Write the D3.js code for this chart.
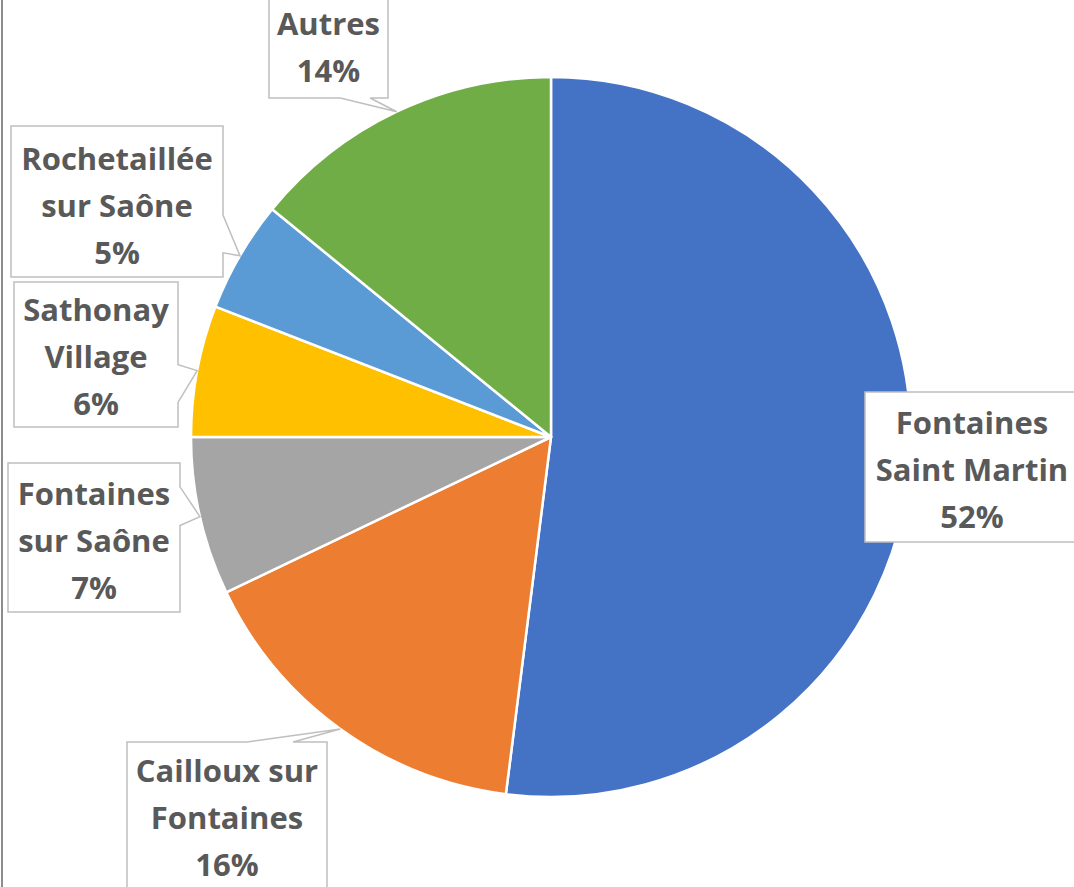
<html>
<head>
    <title>Répartition par commune</title>
    <script src="https://d3js.org/d3.v7.min.js"></script>
    <style>
        body { margin: 0; background: #fff; }
    </style>
</head>
<body>
    <svg id="piechart" width="1074" height="887"></svg>

    <script>
        // data
        const communes = ["Fontaines Saint Martin", "Cailloux sur Fontaines", "Fontaines sur Saône",
                          "Sathonay Village", "Rochetaillée sur Saône", "Autres"];
        const labelLines = [["Fontaines", "Saint Martin"], ["Cailloux sur", "Fontaines"], ["Fontaines", "sur Saône"],
                            ["Sathonay", "Village"], ["Rochetaillée", "sur Saône"], ["Autres"]];
        const shares = [52.0, 15.9, 7.1, 5.9, 5.0, 14.1];
        const colors = ["#4472C4", "#ED7D31", "#A5A5A5", "#FFC000", "#5B9BD5", "#70AD47"];

        // label boxes (layout only): x, y, w, h, side of the pointer, pointer base as fractions of that side
        const boxes = [
            { x: 865, y: 392, w: 214, h: 150, side: null, dy: 2 },
            { x: 127, y: 742, w: 200, h: 154, side: "top", f: [0.6, 0.83], dy: -2 },
            { x: 8, y: 463, w: 172, h: 149, side: "right", f: [0.16, 0.42], dy: 2 },
            { x: 14, y: 282, w: 164, h: 145, side: "right", f: [0.57, 0.83], dy: 1 },
            { x: 11, y: 126, w: 212, h: 151, side: "right", f: [0.59, 0.84], dy: 3 },
            { x: 269, y: -6, w: 119, h: 104, side: "bottom", f: [0.6, 0.85], dy: 0 }
        ];

        const svg = d3.select('svg#piechart');
        const cx = 551, cy = 437, radius = 360;

        // thin frame line on the left
        svg.append('line')
           .attr('x1', 2).attr('x2', 2)
           .attr('y1', 0).attr('y2', 887)
           .attr('stroke', '#8c8c8c')
           .attr('stroke-width', 2);

        const table = communes.map((c, i) => ({ name: c, value: shares[i], color: colors[i], lines: labelLines[i], box: boxes[i] }));

        const pie = d3.pie().sort(null).value(d => d.value);
        const arcs = pie(table);
        const arc = d3.arc().innerRadius(0).outerRadius(radius);

        const chartArea = svg.append('g')
                             .attr('transform', `translate(${cx}, ${cy})`);

        chartArea.selectAll('path')
                 .data(arcs)
                 .enter()
                 .append('path')
                 .attr('d', arc)
                 .attr('fill', d => d.data.color)
                 .attr('stroke', '#fff')
                 .attr('stroke-width', 2.5)
                 .attr('stroke-linejoin', 'round');

        // callout boxes with a wedge pointing at the slice edge
        function calloutPath(b, tip) {
            const x0 = b.x, y0 = b.y, x1 = b.x + b.w, y1 = b.y + b.h;
            const inside = tip[0] > x0 && tip[0] < x1 && tip[1] > y0 && tip[1] < y1;
            if (!b.side || inside) {
                return `M${x0},${y0}H${x1}V${y1}H${x0}Z`;
            }
            const p = d3.path();
            p.moveTo(x0, y0);
            if (b.side === 'top') {
                p.lineTo(x0 + b.w * b.f[0], y0);
                p.lineTo(tip[0], tip[1]);
                p.lineTo(x0 + b.w * b.f[1], y0);
            }
            p.lineTo(x1, y0);
            if (b.side === 'right') {
                p.lineTo(x1, y0 + b.h * b.f[0]);
                p.lineTo(tip[0], tip[1]);
                p.lineTo(x1, y0 + b.h * b.f[1]);
            }
            p.lineTo(x1, y1);
            if (b.side === 'bottom') {
                p.lineTo(x0 + b.w * b.f[1], y1);
                p.lineTo(tip[0], tip[1]);
                p.lineTo(x0 + b.w * b.f[0], y1);
            }
            p.lineTo(x0, y1);
            p.closePath();
            return p.toString();
        }

        const labels = svg.append('g')
                          .selectAll('g')
                          .data(arcs)
                          .enter()
                          .append('g');

        labels.append('path')
              .attr('d', d => {
                  const mid = (d.startAngle + d.endAngle) / 2;
                  const tip = [cx + radius * Math.sin(mid), cy - radius * Math.cos(mid)];
                  return calloutPath(d.data.box, tip);
              })
              .attr('fill', '#fff')
              .attr('stroke', '#BFBFBF')
              .attr('stroke-width', 1.5)
              .attr('stroke-linejoin', 'miter');

        const lineHeight = 47;
        labels.each(function(d) {
            const b = d.data.box;
            const lines = d.data.lines.concat([Math.round(d.data.value) + '%']);
            const midY = b.y + b.h / 2 + b.dy;
            const g = d3.select(this);
            lines.forEach((t, i) => {
                g.append('text')
                 .attr('x', b.x + b.w / 2)
                 .attr('y', midY + (i - (lines.length - 1) / 2) * lineHeight)
                 .attr('text-anchor', 'middle')
                 .attr('dominant-baseline', 'central')
                 .style('font-family', '"Open Sans", Lato, sans-serif')
                 .style('font-weight', 'bold')
                 .style('font-size', '31px')
                 .attr('fill', '#595959')
                 .text(t);
            });
        });
    </script>
</body>
</html>
